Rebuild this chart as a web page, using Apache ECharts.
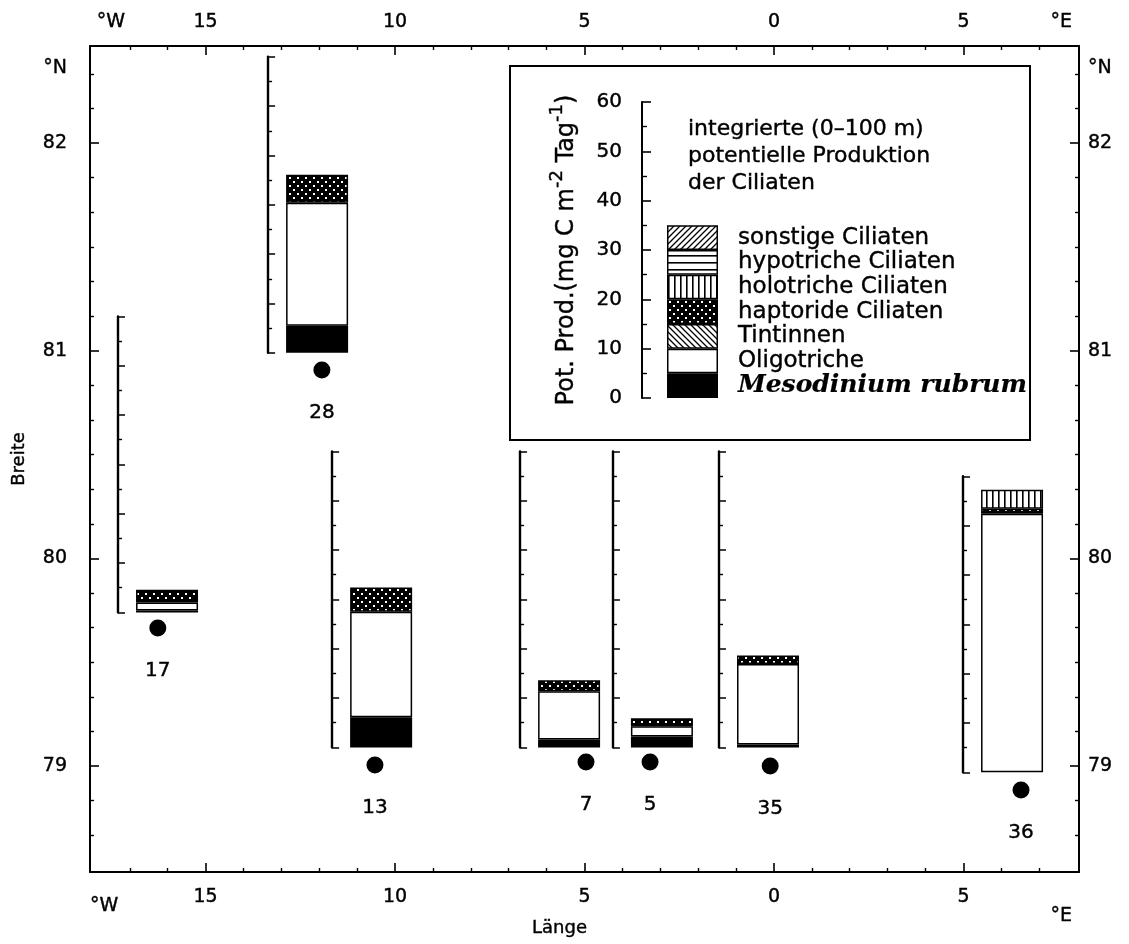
<!DOCTYPE html>
<html>
<head>
<meta charset="utf-8">
<script src="https://cdn.jsdelivr.net/npm/echarts@6/dist/echarts.min.js"></script>
<style>
  html, body { margin: 0; padding: 0; background: #fff; }
  #chart { width: 1129px; height: 944px; }
</style>
</head>
<body>
<div id="chart"></div>
<script>
// ---- Stations (number, position of the station dot in degrees) ----
const stations = ['17', '28', '13', '7', '5', '35', '36'];
const stationLon = [-16.26, -11.93, -10.53, -4.96, -3.27, -0.10, 6.52];
const stationLat = [79.665, 80.907, 79.005, 79.02, 79.02, 79.0, 78.885];
// foot of each station's production scale (degrees)
const scaleLon = [-17.31, -13.35, -11.66, -6.70, -4.25, -1.45, 4.99];
const scaleLat = [79.74, 80.99, 79.09, 79.09, 79.09, 79.09, 78.97];

// ---- Integrated potential production per group (mg C m-2 d-1), station order as above ----
const groups = ['Mesodinium rubrum', 'Oligotriche', 'Tintinnen', 'haptoride Ciliaten',
                'holotriche Ciliaten', 'hypotriche Ciliaten', 'sonstige Ciliaten'];
const mesodinium  = [0.4, 5.5, 6.1, 1.6, 2.2, 0.6, 0];
const oligotriche = [1.6, 24.9, 21.4, 9.8, 2.1, 16.3, 52.4];
const tintinnen   = [0, 0, 0, 0, 0, 0, 0];
const haptoride   = [2.6, 5.7, 4.9, 2.2, 1.6, 1.7, 1.0];
const holotriche  = [0, 0, 0, 0, 0, 0, 3.9];
const hypotriche  = [0, 0, 0, 0, 0, 0, 0];
const sonstige    = [0, 0, 0, 0, 0, 0, 0];
// key bar: one 5-unit block per group
const keyBlocks   = [5, 5, 5, 5, 5, 5, 5];

// ---- Tick labels ----
const lonTicks = [-15, -10, -5, 0, 5];
const latTicks = [79, 80, 81, 82];
const prodMax = 60;

// ---- Layout / style ----
const LON_MIN = -18.05, LON_MAX = 8.05, LAT_MIN = 78.49, LAT_MAX = 82.467;
const MAIN = { left: 90, top: 46, width: 989, height: 826, outerBoundsMode: 'none' };
const SCALE_PX = 296;          // height of each station's 0-60 scale
const FONT = 'DejaVu Sans';
const INK = '#000';

function pattern(kind) {
  const s = kind === 'dots' ? 8 : (kind === 'horiz' ? 7 : 6);
  const c = document.createElement('canvas');
  c.width = s; c.height = s;
  const g = c.getContext('2d');
  g.fillStyle = kind === 'dots' ? '#000' : '#fff';
  g.fillRect(0, 0, s, s);
  g.strokeStyle = '#000';
  g.fillStyle = '#000';
  g.lineWidth = 1.3;
  if (kind === 'diagR') {
    g.beginPath();
    g.moveTo(-1, s + 1); g.lineTo(s + 1, -1);
    g.moveTo(-1, 1); g.lineTo(1, -1);
    g.moveTo(s - 1, s + 1); g.lineTo(s + 1, s - 1);
    g.stroke();
  } else if (kind === 'diagL') {
    g.beginPath();
    g.moveTo(-1, -1); g.lineTo(s + 1, s + 1);
    g.moveTo(s - 1, -1); g.lineTo(s + 1, 1);
    g.moveTo(-1, s - 1); g.lineTo(1, s + 1);
    g.stroke();
  } else if (kind === 'vert') {
    g.fillRect(2, 0, 1.6, s);
  } else if (kind === 'horiz') {
    g.fillRect(0, 3, s, 1.6);
  } else if (kind === 'dots') {
    g.fillStyle = '#fff';
    g.fillRect(1, 1, 2, 2);
    g.fillRect(5, 5, 2, 2);
  }
  return { image: c, repeat: 'repeat' };
}

const values = [mesodinium, oligotriche, tintinnen, haptoride, holotriche, hypotriche, sonstige];
const fills = ['#000', '#fff', pattern('diagL'), pattern('dots'), pattern('vert'), pattern('horiz'), pattern('diagR')];

// minor graticule ticks: every degree of longitude, every 10' of latitude
const lonMinor = [];
for (let d = -17; d <= 7; d++) if (d % 5 !== 0) lonMinor.push(d);
const latMinor = [];
for (let d = 78; d <= 82; d++) {
  for (let k = 1; k < 6; k++) {
    const v = d + k / 6;
    if (v > LAT_MIN + 0.05 && v < LAT_MAX - 0.05) latMinor.push(v);
  }
}

// slightly heavier strokes for all text
const textBase = { fontFamily: FONT, color: INK, textBorderColor: INK, textBorderWidth: 0.4 };

function lonLabel(v) {
  if (v < -17) return '{u|°W}';
  if (v > 7) return '{e|°E}';
  return String(Math.abs(v));
}
function latLabel(v) {
  return v > 82.2 ? '°N' : String(v);
}

function geoX(extra) {
  return Object.assign({
    gridIndex: 0, type: 'value', min: LON_MIN, max: LON_MAX,
    splitLine: { show: false }, axisLine: { show: false, onZero: false },
    axisTick: { show: false }, axisLabel: { show: false }
  }, extra);
}
function geoY(extra) {
  return Object.assign({
    gridIndex: 0, type: 'value', min: LAT_MIN, max: LAT_MAX,
    splitLine: { show: false }, axisLine: { show: false, onZero: false },
    axisTick: { show: false }, axisLabel: { show: false }
  }, extra);
}
const frameLine = { show: true, onZero: false, lineStyle: { color: INK, width: 2 } };

const grids = [
  MAIN,
  // key scale inside the box
  { left: 642, top: 102, width: 101, height: 296, outerBoundsMode: 'none' }
];

const xAxes = [
  geoX({
    position: 'bottom', axisLine: frameLine,
    axisTick: { show: true, inside: true, length: 9, customValues: lonTicks, lineStyle: { color: INK, width: 1.6 } },
    axisLabel: {
      show: true, customValues: [-17.68].concat(lonTicks, [7.58]), formatter: lonLabel,
      margin: 16, fontSize: 19, ...textBase,
      rich: { u: { fontSize: 19, ...textBase, padding: [9, 0, 0, 0] },
              e: { fontSize: 19, ...textBase, padding: [19, 0, 0, 0] } }
    },
    name: 'Länge', nameLocation: 'middle', nameGap: 47, nameMoveOverlap: false,
    nameTextStyle: { fontSize: 18, ...textBase, padding: [0, 50, 0, 0] }
  }),
  geoX({ position: 'bottom',
    axisTick: { show: true, inside: true, length: 4, customValues: lonMinor, lineStyle: { color: INK, width: 1.4 } } }),
  geoX({
    position: 'top', axisLine: frameLine,
    axisTick: { show: true, inside: true, length: 9, customValues: lonTicks, lineStyle: { color: INK, width: 1.6 } },
    axisLabel: { show: true, customValues: [-17.5].concat(lonTicks, [7.58]),
      formatter: v => lonLabel(v).replace(/\{[ue]\|(.*)\}/, '$1'),
      margin: 14, fontSize: 19, ...textBase }
  }),
  geoX({ position: 'top',
    axisTick: { show: true, inside: true, length: 4, customValues: lonMinor, lineStyle: { color: INK, width: 1.4 } } }),
  { gridIndex: 1, type: 'category', data: ['key'], show: false }
];

const yAxes = [
  geoY({
    position: 'left', axisLine: frameLine,
    axisTick: { show: true, inside: true, length: 9, customValues: latTicks, lineStyle: { color: INK, width: 1.6 } },
    axisLabel: { show: true, customValues: latTicks.concat([82.36]), formatter: latLabel,
      margin: 23, fontSize: 19, ...textBase },
    name: 'Breite', nameLocation: 'middle', nameRotate: 90, nameGap: 62,
    nameTextStyle: { fontSize: 18, ...textBase }
  }),
  geoY({ position: 'left',
    axisTick: { show: true, inside: true, length: 4, customValues: latMinor, lineStyle: { color: INK, width: 1.4 } } }),
  geoY({
    position: 'right', axisLine: frameLine,
    axisTick: { show: true, inside: true, length: 9, customValues: latTicks, lineStyle: { color: INK, width: 1.6 } },
    axisLabel: { show: true, customValues: latTicks.concat([82.36]), formatter: latLabel,
      margin: 9, fontSize: 19, ...textBase }
  }),
  geoY({ position: 'right',
    axisTick: { show: true, inside: true, length: 4, customValues: latMinor, lineStyle: { color: INK, width: 1.4 } } }),
  {
    gridIndex: 1, type: 'value', min: 0, max: prodMax, interval: 10,
    splitLine: { show: false },
    axisLine: { show: true, lineStyle: { color: INK, width: 2 } },
    axisTick: { show: true, inside: true, length: 9, lineStyle: { color: INK, width: 1.6 } },
    minorTick: { show: true, splitNumber: 2, length: 5, lineStyle: { color: INK, width: 1.4 } },
    axisLabel: { margin: 20, fontSize: 20, ...textBase },
    name: 'Pot. Prod.(mg C m{sup|-2} Tag{sup|-1})',
    nameLocation: 'middle', nameRotate: 90, nameGap: 56,
    nameTextStyle: {
      fontSize: 24, ...textBase, lineHeight: 38,
      rich: { sup: { fontSize: 18, ...textBase, verticalAlign: 'top', lineHeight: 19 } }
    }
  }
];

const series = [];

// station dots with station numbers
series.push({
  type: 'scatter', xAxisIndex: 0, yAxisIndex: 0, symbolSize: 17, silent: true,
  itemStyle: { color: INK, opacity: 1 },
  label: { show: true, position: 'bottom', distance: 24, fontSize: 20, ...textBase,
           formatter: p => p.data[2] },
  data: stations.map((s, i) => [stationLon[i], stationLat[i], s])
});

// key bar with group names
groups.forEach((name, g) => {
  const isMeso = g === 0;
  series.push({
    type: 'bar', name, xAxisIndex: 4, yAxisIndex: 4, stack: 'key', barWidth: 51, silent: true,
    data: [keyBlocks[g]],
    itemStyle: { color: fills[g], borderColor: INK, borderWidth: 1.5 },
    label: {
      show: true, position: 'right', distance: 20, fontSize: 23, ...textBase,
      formatter: isMeso ? '{it|' + name + '}' : name,
      rich: { it: { fontFamily: 'DejaVu Serif', fontStyle: 'italic', fontWeight: 'bold', fontSize: 25,
                    color: INK, textBorderColor: INK, textBorderWidth: 0.2 } }
    }
  });
});

const option = {
  animation: false,
  backgroundColor: '#fff',
  title: {
    text: 'integrierte (0–100 m)\npotentielle Produktion\nder Ciliaten',
    left: 688, top: 116, padding: 0,
    textStyle: { fontSize: 22, fontWeight: 'normal', lineHeight: 27, ...textBase }
  },
  graphic: [{
    type: 'rect', silent: true, z: 0,
    shape: { x: 510, y: 66, width: 520, height: 374 },
    style: { fill: 'none', stroke: INK, lineWidth: 2 }
  }],
  grid: grids,
  xAxis: xAxes,
  yAxis: yAxes,
  series
};

const chart = echarts.init(document.getElementById('chart'), null, { renderer: 'canvas' });
chart.setOption(option);

// one 0-60 scale with stacked bar per station, its foot placed at the station's scale position
stations.forEach((s, i) => {
  const p = chart.convertToPixel({ xAxisIndex: 0, yAxisIndex: 0 }, [scaleLon[i], scaleLat[i]]);
  const gi = grids.length;
  grids.push({ left: p[0], top: p[1] - SCALE_PX, width: 98, height: SCALE_PX, outerBoundsMode: 'none' });
  xAxes.push({ gridIndex: gi, type: 'category', data: [s], show: false });
  yAxes.push({
    gridIndex: gi, type: 'value', min: 0, max: prodMax, interval: 10,
    splitLine: { show: false },
    axisLine: { show: true, lineStyle: { color: INK, width: 2.4 } },
    axisTick: { show: true, inside: true, length: 7, lineStyle: { color: INK, width: 1.5 } },
    minorTick: { show: true, splitNumber: 2, length: 4, lineStyle: { color: INK, width: 1.4 } },
    axisLabel: { show: false }
  });
  const axIdx = xAxes.length - 1;
  values.forEach((arr, g) => {
    series.push({
      type: 'bar', name: groups[g], xAxisIndex: axIdx, yAxisIndex: axIdx,
      stack: 'st' + s, barWidth: 62, silent: true,
      data: [arr[i] > 0 ? arr[i] : '-'],
      itemStyle: { color: fills[g], borderColor: INK, borderWidth: 1.5 }
    });
  });
});

chart.setOption(option, true);
</script>
</body>
</html>
